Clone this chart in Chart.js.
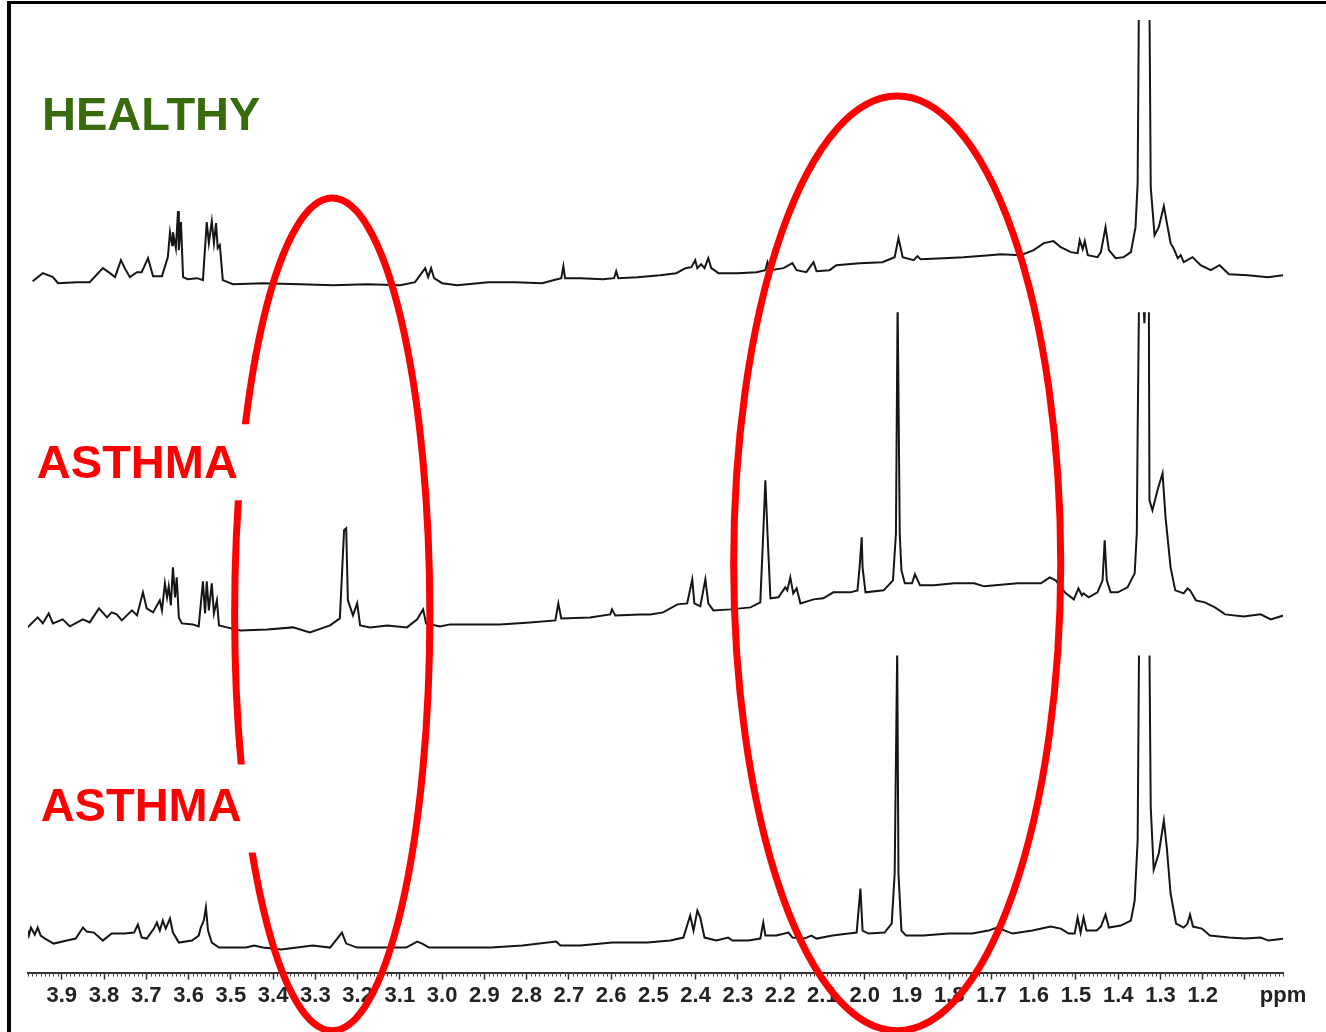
<!DOCTYPE html>
<html lang="en">
<head>
<meta charset="UTF-8">
<title>1H NMR spectra - healthy vs asthma</title>
<style>
    html, body { margin: 0; padding: 0; background: #fff; }
    #spectrum { display: block; }
</style>
</head>
<body>
<canvas id="spectrum" width="1326" height="1032"></canvas>
<script src="https://cdn.jsdelivr.net/npm/chart.js"></script>
<script>
    // chemical shift (ppm) and intensity (arbitrary units above each trace's baseline)
    const healthyPpm = [3.969,3.945,3.921,3.909,3.864,3.834,3.803,3.786,3.774,3.760,
        3.751,3.739,3.722,3.711,3.696,3.684,3.663,3.649,3.644,3.639,
        3.637,3.630,3.625,3.623,3.618,3.613,3.602,3.580,3.566,3.557,
        3.552,3.545,3.540,3.535,3.531,3.526,3.519,3.495,3.424,3.336,
        3.258,3.178,3.099,3.064,3.040,3.033,3.026,3.019,3.000,2.964,
        2.891,2.827,2.763,2.737,2.718,2.713,2.709,2.673,2.619,2.593,
        2.588,2.583,2.538,2.484,2.446,2.424,2.410,2.401,2.396,2.387,
        2.379,2.370,2.363,2.346,2.301,2.256,2.235,2.230,2.223,2.192,
        2.171,2.161,2.138,2.121,2.114,2.083,2.067,2.012,1.958,1.929,
        1.920,1.910,1.884,1.875,1.868,1.813,1.766,1.704,1.678,1.631,
        1.600,1.576,1.553,1.536,1.512,1.496,1.491,1.484,1.479,1.472,
        1.449,1.441,1.430,1.422,1.406,1.387,1.370,1.359,1.354,1.349,
        1.338,1.328,1.323,1.314,1.304,1.292,1.283,1.276,1.269,1.259,
        1.252,1.245,1.224,1.205,1.181,1.160,1.138,1.093,1.046,1.008];
    const healthyInt = [4,12,8,2,3,3,17,12,8,25,
        17,8,13,13,27,9,9,28,53,40,
        53,37,74,35,63,8,6,7,5,63,
        42,64,42,62,37,40,5,1,2,1,
        0,1,0,3,17,8,17,7,2,0,
        3,3,2,5,7,19,7,7,6,7,
        14,7,8,10,12,17,18,25,17,21,
        17,27,17,12,12,13,15,23,15,17,
        22,15,13,23,14,15,20,22,23,28,
        47,28,25,29,26,27,28,30,31,30,
        35,42,44,38,33,32,45,36,44,30,
        28,33,58,35,27,28,33,58,102,400,
        330,400,98,50,58,79,58,42,37,27,
        30,23,28,20,15,20,11,10,8,10];

    const asthma1Ppm = [3.981,3.957,3.945,3.931,3.921,3.898,3.881,3.850,3.834,3.812,
        3.793,3.782,3.770,3.758,3.734,3.722,3.708,3.699,3.684,3.668,
        3.663,3.656,3.651,3.647,3.642,3.637,3.632,3.628,3.623,3.616,
        3.590,3.576,3.566,3.561,3.557,3.552,3.545,3.540,3.533,3.528,
        3.509,3.478,3.414,3.353,3.313,3.265,3.242,3.232,3.227,3.223,
        3.211,3.201,3.194,3.170,3.130,3.083,3.059,3.045,3.038,3.005,
        2.981,2.863,2.792,2.732,2.725,2.718,2.650,2.602,2.598,2.590,
        2.531,2.507,2.477,2.443,2.420,2.408,2.403,2.389,2.377,2.370,
        2.358,2.318,2.270,2.247,2.240,2.235,2.230,2.223,2.204,2.188,
        2.183,2.176,2.169,2.161,2.152,2.121,2.098,2.074,2.034,2.017,
        2.012,2.007,2.005,1.998,1.955,1.933,1.926,1.922,1.917,1.913,
        1.905,1.888,1.881,1.869,1.836,1.789,1.741,1.717,1.638,1.583,
        1.562,1.548,1.524,1.505,1.494,1.486,1.482,1.470,1.449,1.437,
        1.432,1.427,1.418,1.401,1.378,1.361,1.356,1.354,1.349,1.338,
        1.328,1.326,1.319,1.307,1.295,1.288,1.276,1.265,1.245,1.236,
        1.230,1.216,1.195,1.171,1.147,1.103,1.063,1.039,1.008];
    const asthma1Int = [3,13,7,17,7,11,4,11,8,22,
        13,18,16,10,20,15,38,22,18,30,
        20,47,33,44,25,63,33,53,13,7,
        6,4,49,17,49,20,47,17,30,5,
        3,0,1,3,-2,5,12,100,102,30,
        15,27,5,3,5,3,11,21,7,4,
        6,6,8,10,27,12,13,16,21,15,
        16,16,18,26,27,51,27,24,51,27,
        20,21,23,28,97,150,97,32,33,43,
        40,53,37,42,27,31,32,38,38,40,
        63,93,63,38,40,50,97,330,97,60,
        47,47,56,45,45,47,47,44,47,47,
        53,50,37,31,42,35,37,33,38,50,
        90,50,38,38,43,57,97,197,400,307,
        400,130,120,140,157,113,63,40,37,42,
        40,30,28,23,16,14,16,11,15];

    const asthma2Ppm = [3.983,3.978,3.973,3.964,3.957,3.950,3.940,3.919,3.888,3.867,
        3.850,3.841,3.824,3.803,3.782,3.751,3.729,3.720,3.711,3.699,
        3.682,3.675,3.668,3.661,3.654,3.644,3.637,3.623,3.592,3.576,
        3.571,3.564,3.559,3.554,3.545,3.528,3.464,3.445,3.424,3.381,
        3.306,3.265,3.237,3.227,3.201,3.137,3.085,3.059,3.047,3.031,
        2.990,2.884,2.810,2.730,2.720,2.673,2.597,2.514,2.460,2.429,
        2.413,2.405,2.396,2.389,2.379,2.351,2.323,2.313,2.275,2.247,
        2.240,2.235,2.209,2.180,2.171,2.143,2.126,2.114,2.076,2.038,
        2.019,2.010,2.005,1.991,1.953,1.936,1.929,1.923,1.920,1.913,
        1.902,1.861,1.801,1.745,1.707,1.687,1.650,1.603,1.560,1.536,
        1.517,1.503,1.496,1.489,1.482,1.475,1.451,1.441,1.430,1.422,
        1.394,1.370,1.361,1.354,1.349,1.338,1.328,1.323,1.316,1.304,
        1.292,1.285,1.276,1.263,1.245,1.236,1.230,1.223,1.202,1.183,
        1.138,1.100,1.063,1.044,1.006];
    const asthma2Int = [21,13,21,14,21,13,10,5,8,10,
        21,17,16,8,15,15,16,24,11,10,
        20,26,18,28,20,30,16,6,8,13,
        21,28,41,18,6,1,1,3,1,-1,
        3,1,16,5,1,1,1,7,5,1,
        1,1,3,7,3,3,6,6,8,11,
        33,18,38,31,11,8,11,8,8,10,
        26,13,13,16,11,10,13,10,13,15,
        16,60,18,15,16,25,75,300,75,18,
        13,13,15,15,18,21,15,18,22,20,
        15,15,31,16,31,18,18,22,34,21,
        23,28,48,108,400,330,400,141,79,95,
        128,101,55,25,21,25,34,22,20,13,
        11,10,11,8,10];

    // vertical position of each trace's baseline and the level where the plot cuts it off
    const seriesNames = ['HEALTHY', 'ASTHMA', 'ASTHMA'];
    const seriesOffsets = [687, 342, 24];
    const seriesClip = [265, 318, 293];

    // axis ticks
    const tickValues = [3.9,3.8,3.7,3.6,3.5,3.4,3.3,3.2,3.1,3.0,2.9,2.8,2.7,2.6,2.5,2.4,2.3,2.2,2.1,2.0,1.9,1.8,1.7,1.6,1.5,1.4,1.3,1.2,1.1,1.01];
    const tickLabels = ['3.9','3.8','3.7','3.6','3.5','3.4','3.3','3.2','3.1','3.0','2.9','2.8','2.7','2.6','2.5','2.4','2.3','2.2','2.1','2.0','1.9','1.8','1.7','1.6','1.5','1.4','1.3','1.2','','ppm'];

    // highlighted regions: [centre ppm, centre height, half width ppm, half height]
    const highlightRegions = [[3.260, 358, 0.231, 416], [1.923, 409, 0.387, 467]];

    const FONT = '"Liberation Sans", Arial, sans-serif';

    const ppmSets = [healthyPpm, asthma1Ppm, asthma2Ppm];
    const intSets = [healthyInt, asthma1Int, asthma2Int];
    const datasets = ppmSets.map((ppm, k) => ({
        label: seriesNames[k],
        data: ppm.map((p, i) => ({ x: p, y: seriesOffsets[k] + intSets[k][i] })),
        offset: seriesOffsets[k],
        clipLevel: seriesClip[k],
        borderColor: '#151515',
        borderWidth: 2,
        pointRadius: 0,
        tension: 0,
        fill: false
    }));

    // cut each trace at its own ceiling (big peaks run off like in the original plot)
    const traceClip = {
        id: 'traceClip',
        beforeDatasetDraw(chart, args) {
            const ds = chart.data.datasets[args.index];
            const area = chart.chartArea;
            const top = chart.scales.y.getPixelForValue(ds.offset + ds.clipLevel);
            const ctx = chart.ctx;
            ctx.save();
            ctx.beginPath();
            ctx.rect(area.left - 5, top, area.right - area.left + 10, area.bottom - top);
            ctx.clip();
        },
        afterDatasetDraw(chart) {
            chart.ctx.restore();
        }
    };

    const decorations = {
        id: 'decorations',
        afterDraw(chart) {
            const ctx = chart.ctx;
            const xs = chart.scales.x, ys = chart.scales.y;
            const axisY = chart.chartArea.bottom;

            // minor ticks every 0.01 ppm
            ctx.save();
            ctx.strokeStyle = '#444';
            ctx.lineWidth = 1;
            ctx.beginPath();
            for (let i = 101; i <= 398; i++) {
                if (i % 10 === 0) continue;
                const px = Math.round(xs.getPixelForValue(i / 100)) + 0.5;
                ctx.moveTo(px, axisY);
                ctx.lineTo(px, axisY + 4);
            }
            ctx.stroke();

            // red ellipses
            ctx.strokeStyle = '#ff0000';
            ctx.lineWidth = 7;
            highlightRegions.forEach(([cx, cy, rx, ry]) => {
                const px = xs.getPixelForValue(cx);
                const py = ys.getPixelForValue(cy);
                const rpx = Math.abs(xs.getPixelForValue(cx + rx) - px);
                const rpy = Math.abs(ys.getPixelForValue(cy + ry) - py);
                ctx.beginPath();
                ctx.ellipse(px, py, rpx, rpy, 0, 0, Math.PI * 2);
                ctx.stroke();
            });

            // group labels on white boxes
            const labels = [
                { text: seriesNames[0], ppm: 3.947, v: 842, color: '#386b0b', pad: [6, 18, 6, 22] },
                { text: seriesNames[1], ppm: 3.959, v: 494, color: '#ff0000', pad: [6, 20, 14, 22] },
                { text: seriesNames[2], ppm: 3.950, v: 152, color: '#ff0000', pad: [6, 22, 30, 32] }
            ];
            ctx.font = 'bold 47px ' + FONT;
            ctx.textBaseline = 'alphabetic';
            ctx.textAlign = 'left';
            labels.forEach(l => {
                const x = xs.getPixelForValue(l.ppm);
                const y = ys.getPixelForValue(l.v);
                const w = ctx.measureText(l.text).width;
                ctx.fillStyle = '#fff';
                ctx.fillRect(x - l.pad[0], y - 34 - l.pad[1], w + l.pad[0] + l.pad[2], 34 + l.pad[1] + l.pad[3]);
                ctx.fillStyle = l.color;
                ctx.fillText(l.text, x, y);
            });

            // frame lines at top and left
            ctx.fillStyle = '#000';
            ctx.fillRect(7, 1, chart.width - 7, 3);
            ctx.fillRect(7, 1, 4, chart.height - 1);
            ctx.restore();
        }
    };

    const ctx = document.getElementById('spectrum').getContext('2d');
    const chart = new Chart(ctx, {
        type: 'line',
        data: { datasets: datasets },
        options: {
            responsive: false,
            animation: false,
            layout: { padding: { left: 28, right: 43, top: 10, bottom: 20 } },
            plugins: {
                legend: { display: false },
                tooltip: { enabled: false }
            },
            scales: {
                x: {
                    type: 'linear',
                    reverse: true,
                    min: 1.01,
                    max: 3.98,
                    afterBuildTicks: scale => {
                        scale.ticks = tickValues.map(v => ({ value: v }));
                    },
                    ticks: {
                        autoSkip: false,
                        maxRotation: 0,
                        padding: 3,
                        color: '#222',
                        font: { family: FONT, size: 22, weight: 'bold' },
                        callback: (value, index) => tickLabels[index]
                    },
                    grid: {
                        drawOnChartArea: false,
                        drawTicks: true,
                        tickLength: 7,
                        tickWidth: 1.5,
                        tickColor: c => (c.tick && c.tick.value === 1.01) ? 'rgba(0,0,0,0)' : '#333'
                    },
                    border: { display: true, color: '#333', width: 2 }
                },
                y: {
                    display: false,
                    min: 0,
                    max: 962
                }
            }
        },
        plugins: [traceClip, decorations]
    });
</script>
</body>
</html>
